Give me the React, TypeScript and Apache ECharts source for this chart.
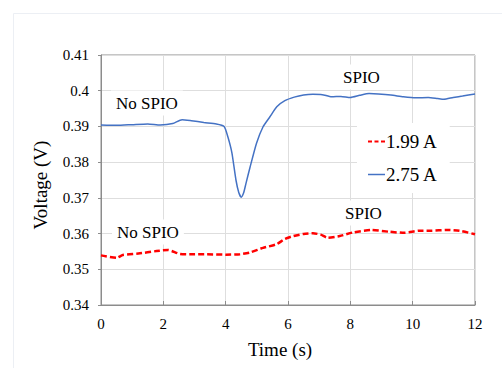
import React, { useEffect, useRef } from "react";
import * as echarts from "echarts";

const SERIES_NAMES = ["1.99 A", "2.75 A"];

const timeRed = [0, 0.5, 0.7, 1.2, 1.78, 2.15, 2.53, 3.0, 3.4, 4.0, 4.46, 4.78, 5.2, 5.63, 5.9, 6.17, 6.5, 6.8, 7.05, 7.28, 7.66, 8.08, 8.67, 9.26, 9.74, 10.22, 10.6, 11.08, 11.5, 12];
const voltRed = [0.3539, 0.3532, 0.354, 0.3544, 0.3551, 0.3554, 0.3543, 0.3542, 0.3542, 0.3541, 0.3542, 0.3547, 0.356, 0.357, 0.3585, 0.3593, 0.3599, 0.3601, 0.3597, 0.3588, 0.3593, 0.3603, 0.361, 0.3605, 0.3602, 0.3608, 0.3608, 0.361, 0.3608, 0.3598];

const timeBlue = [0, 0.5, 1.0, 1.5, 1.9, 2.3, 2.6, 2.9, 3.3, 3.7, 3.95, 4.07, 4.2, 4.33, 4.42, 4.5, 4.58, 4.65, 4.78, 4.99, 5.2, 5.42, 5.64, 5.9, 6.2, 6.5, 6.8, 7.1, 7.4, 7.7, 8.0, 8.3, 8.6, 8.9, 9.3, 9.7, 10.1, 10.5, 10.8, 11.0, 11.3, 11.6, 12.0];
const voltBlue = [0.3904, 0.3903, 0.3905, 0.3907, 0.3904, 0.3908, 0.3919, 0.3916, 0.3911, 0.3907, 0.39, 0.3871, 0.3826, 0.375, 0.3715, 0.3702, 0.3715, 0.374, 0.3785, 0.3853, 0.3899, 0.3927, 0.3955, 0.3972, 0.3982, 0.3988, 0.399, 0.3989, 0.3983, 0.3984, 0.3981, 0.3987, 0.3992, 0.3991, 0.3988, 0.3983, 0.398, 0.3981, 0.3978, 0.3976, 0.3981, 0.3985, 0.3991];

const X_TITLE = "Time (s)";
const Y_TITLE = "Voltage (V)";
const ANNOTATIONS = ["No SPIO", "SPIO", "No SPIO", "SPIO"];

const FONT = "'Times New Roman', 'Liberation Serif', 'DejaVu Serif', serif";

export default function App() {
  const ref = useRef<HTMLDivElement>(null);
  useEffect(() => {
    if (!ref.current) return;
    const chart = echarts.init(ref.current, undefined, { renderer: "svg" });
    const pairs = (t: number[], v: number[]) => t.map((x, i) => [x, v[i]]);
    const annot = (text: string, x: number, y: number) => ({
      type: "text",
      x,
      y,
      z: 10,
      style: {
        text,
        fontFamily: FONT,
        fontSize: 17,
        fill: "#000",
        align: "left",
        verticalAlign: "middle",
        backgroundColor: "#fff",
        padding: [4, 5],
      },
    });
    chart.setOption({
      animation: false,
      backgroundColor: "#fff",
      textStyle: { fontFamily: FONT },
      grid: {
        left: 101,
        right: 27,
        top: 55,
        bottom: 63,
        show: true,
        borderColor: "#8c8c8c",
        borderWidth: 1,
      },
      xAxis: {
        type: "value",
        min: 0,
        max: 12,
        interval: 2,
        axisLine: { lineStyle: { color: "#8c8c8c" } },
        axisTick: { show: true, inside: true, length: 4, lineStyle: { color: "#8c8c8c" } },
        splitLine: { show: true, lineStyle: { color: "#dedede" } },
        axisLabel: { fontFamily: FONT, fontSize: 15, color: "#000", margin: 11 },
      },
      yAxis: {
        type: "value",
        min: 0.34,
        max: 0.41,
        interval: 0.01,
        axisLine: { show: true, lineStyle: { color: "#8c8c8c" } },
        axisTick: { show: true, inside: false, length: 3, lineStyle: { color: "#8c8c8c" } },
        splitLine: { show: true, lineStyle: { color: "#dedede" } },
        axisLabel: {
          fontFamily: FONT,
          fontSize: 15,
          color: "#000",
          margin: 12,
          formatter: (v: number) => String(parseFloat(v.toFixed(2))),
        },
      },
      legend: {
        orient: "vertical",
        left: 357,
        top: 123,
        padding: [9, 12, 9, 11],
        itemGap: 14,
        itemWidth: 17,
        itemHeight: 2,
        backgroundColor: "#fff",
        textStyle: { fontFamily: FONT, fontSize: 19, color: "#000", padding: [0, 0, 0, -4] },
        data: [
          { name: SERIES_NAMES[0], icon: "path://M0,0h4v2h-4zM6.5,0h4v2h-4zM13,0h4v2h-4z" },
          { name: SERIES_NAMES[1], icon: "path://M0,0h17v1.5h-17z" },
        ],
      },
      series: [
        {
          name: SERIES_NAMES[0],
          type: "line",
          data: pairs(timeRed, voltRed),
          symbol: "none",
          smooth: 0.2,
          lineStyle: { color: "#ff0000", width: 2.5, type: [6, 3] },
          itemStyle: { color: "#ff0000" },
        },
        {
          name: SERIES_NAMES[1],
          type: "line",
          data: pairs(timeBlue, voltBlue),
          symbol: "none",
          smooth: 0.2,
          lineStyle: { color: "#4472c4", width: 1.5 },
          itemStyle: { color: "#4472c4" },
        },
      ],
      graphic: [
        {
          type: "rect",
          silent: true,
          shape: { x: 13.5, y: 13.5, width: 520, height: 400 },
          style: { fill: "none", stroke: "#eceff4", lineWidth: 1 },
        },
        {
          type: "text",
          x: 280,
          y: 349,
          style: { text: X_TITLE, fontFamily: FONT, fontSize: 19, fill: "#000", align: "center", verticalAlign: "middle" },
        },
        {
          type: "text",
          x: 40,
          y: 185,
          rotation: Math.PI / 2,
          style: { text: Y_TITLE, fontFamily: FONT, fontSize: 19, fill: "#000", align: "center", verticalAlign: "middle" },
        },
        annot(ANNOTATIONS[0], 111, 103),
        annot(ANNOTATIONS[1], 338, 77),
        annot(ANNOTATIONS[2], 112, 232),
        annot(ANNOTATIONS[3], 340, 213),
      ],
    });
    return () => chart.dispose();
  }, []);
  return <div ref={ref} style={{ width: 502, height: 368, position: "absolute", left: 0, top: 0 }} />;
}
